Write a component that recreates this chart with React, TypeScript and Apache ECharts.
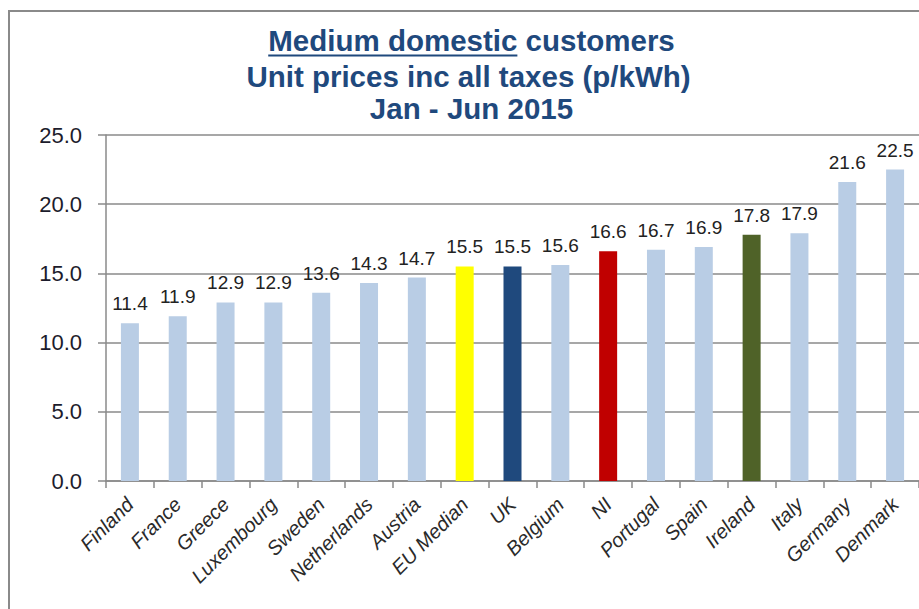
import React, { useEffect, useRef } from "react";
import * as echarts from "echarts";

const categories = [
  "Finland", "France", "Greece", "Luxembourg", "Sweden", "Netherlands", "Austria",
  "EU Median", "UK", "Belgium", "NI", "Portugal", "Spain", "Ireland", "Italy", "Germany", "Denmark",
];
const values = [11.4, 11.9, 12.9, 12.9, 13.6, 14.3, 14.7, 15.5, 15.5, 15.6, 16.6, 16.7, 16.9, 17.8, 17.9, 21.6, 22.5];
const highlightColors: Record<string, string> = {
  "EU Median": "#FFFF00",
  UK: "#1F497D",
  NI: "#C00000",
  Ireland: "#4F6228",
};
const defaultColor = "#B9CDE5";
const titleUnderlined = "Medium domestic";
const titleRest = " customers";
const titleLine2 = "Unit prices inc all taxes (p/kWh)";
const titleLine3 = "Jan - Jun 2015";
const yMin = 0;
const yMax = 25;
const yInterval = 5;

const FONT = "'Liberation Sans', Arial, Helvetica, sans-serif";
const TITLE_COLOR = "#1F497D";
const TITLE_SIZE = 29.5;

function measure(text: string, font: string): number {
  const c = document.createElement("canvas");
  const ctx = c.getContext("2d");
  if (!ctx) return text.length * 15;
  ctx.font = font;
  return ctx.measureText(text).width;
}

export default function App() {
  const ref = useRef<HTMLDivElement>(null);
  useEffect(() => {
    if (!ref.current) return;
    const chart = echarts.init(ref.current, undefined, { renderer: "svg" });
    const titleFont = `bold ${TITLE_SIZE}px ${FONT}`;
    const cx = 471.5;
    const wUnder = measure(titleUnderlined, titleFont);
    const wAll = measure(titleUnderlined + titleRest, titleFont);
    const x0 = cx - wAll / 2;

    chart.setOption({
      animation: false,
      backgroundColor: "#ffffff",
      grid: { left: 106, top: 135, width: 814, bottom: 128, containLabel: false },
      xAxis: {
        type: "category",
        data: categories,
        axisLine: { show: true, lineStyle: { color: "#8a8a8a", width: 1.5 } },
        axisTick: { show: true, interval: 0, length: 7, lineStyle: { color: "#8a8a8a", width: 1.5 } },
        axisLabel: {
          interval: 0,
          rotate: 45,
          margin: 20,
          fontSize: 20,
          fontStyle: "italic",
          fontFamily: FONT,
          color: "#2a2a2a",
        },
      },
      yAxis: {
        type: "value",
        min: yMin,
        max: yMax,
        interval: yInterval,
        axisLine: { show: true, lineStyle: { color: "#8a8a8a", width: 1.5 } },
        axisTick: { show: true, length: 8, lineStyle: { color: "#8a8a8a", width: 1.5 } },
        splitLine: { show: true, lineStyle: { color: "#8a8a8a", width: 1.5 } },
        axisLabel: {
          margin: 24,
          fontSize: 22,
          fontFamily: FONT,
          color: "#1c1c2c",
          formatter: (v: number) => v.toFixed(1),
        },
      },
      series: [
        {
          type: "bar",
          barWidth: 18,
          data: values.map((v, i) => ({
            value: v,
            itemStyle: { color: highlightColors[categories[i]] || defaultColor },
          })),
          label: {
            show: true,
            position: "top",
            distance: 10,
            fontSize: 19,
            fontFamily: FONT,
            color: "#222222",
            formatter: (p: any) => Number(p.value).toFixed(1),
          },
        },
      ],
      graphic: [
        {
          type: "rect",
          silent: true,
          shape: { x: 9, y: 11, width: 1200, height: 900 },
          style: { fill: "none", stroke: "#8a8a8a", lineWidth: 2 },
          z: -1,
        },
        {
          type: "text",
          x: cx,
          y: 40.5,
          style: {
            text: titleUnderlined + titleRest,
            font: titleFont,
            fill: TITLE_COLOR,
            textAlign: "center",
            textVerticalAlign: "middle",
          },
        },
        {
          type: "rect",
          shape: { x: x0, y: 54.5, width: wUnder, height: 2 },
          style: { fill: TITLE_COLOR },
        },
        {
          type: "text",
          x: cx - 3,
          y: 76.5,
          style: {
            text: titleLine2,
            font: titleFont,
            fill: TITLE_COLOR,
            textAlign: "center",
            textVerticalAlign: "middle",
          },
        },
        {
          type: "text",
          x: cx,
          y: 108.5,
          style: {
            text: titleLine3,
            font: titleFont,
            fill: TITLE_COLOR,
            textAlign: "center",
            textVerticalAlign: "middle",
          },
        },
      ],
    });
    return () => chart.dispose();
  }, []);
  return (
    <div
      ref={ref}
      style={{ position: "absolute", left: 0, top: 0, width: 919, height: 609, background: "#fff" }}
    />
  );
}
